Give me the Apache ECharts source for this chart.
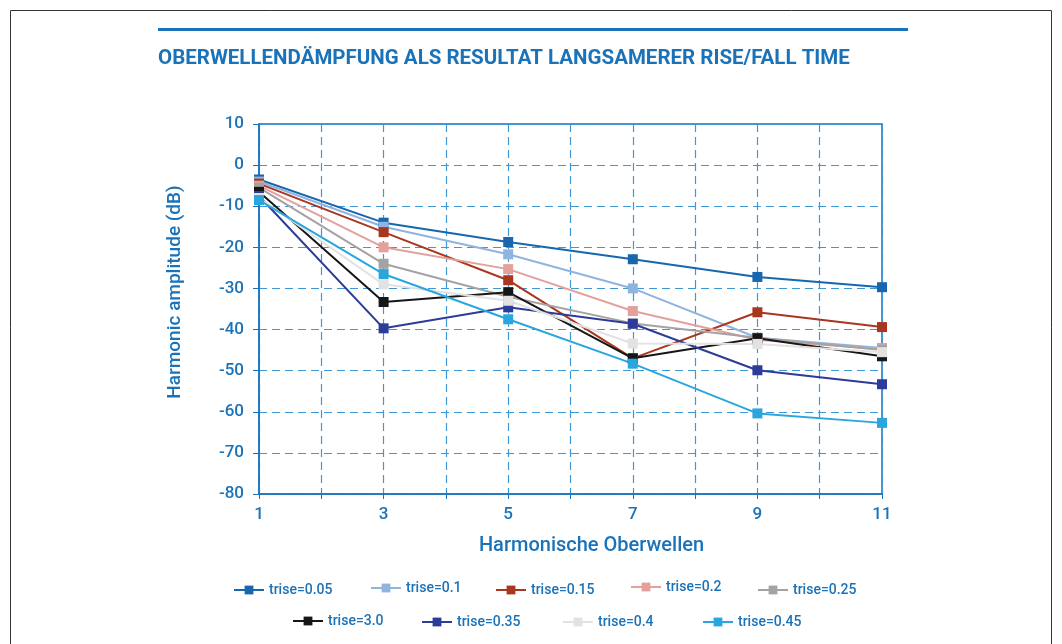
<!DOCTYPE html>
<html>
<head>
<meta charset="utf-8">
<script src="https://cdn.jsdelivr.net/npm/echarts@6/dist/echarts.min.js"></script>
<style>
    html, body { margin: 0; padding: 0; background: #fff; }
    #chart { width: 1062px; height: 644px; }
</style>
</head>
<body>
<div id="chart"></div>
<script>
// harmonic order (x axis)
var harmonics = [1, 3, 5, 7, 9, 11];

// series names
var names = [
    'trise=0.05', 'trise=0.1', 'trise=0.15', 'trise=0.2', 'trise=0.25',
    'trise=3.0', 'trise=0.35', 'trise=0.4', 'trise=0.45'
];

// amplitude in dB per series
var t005 = [-3.5, -14, -18.7, -22.9, -27.2, -29.7];
var t010 = [-4, -15, -21.7, -30, -42, -44.5];
var t015 = [-4.5, -16.3, -28, -47, -35.8, -39.4];
var t020 = [-5, -20, -25.3, -35.5, -42.5, -44.8];
var t025 = [-5.5, -24, -32, -38.5, -42, -45];
var t300 = [-6.5, -33.3, -30.9, -47, -42.1, -46.5];
var t035 = [-7.5, -39.7, -34.6, -38.6, -49.9, -53.3];
var t040 = [-8, -29, -33, -43.4, -43.5, -45.5];
var t045 = [-8.5, -26.5, -37.5, -48.3, -60.4, -62.7];

var values = [t005, t010, t015, t020, t025, t300, t035, t040, t045];

var colors = [
    '#1766ae', '#8fb4e0', '#a9361f', '#e3a09c', '#a3a3a3',
    '#161616', '#2d3b99', '#e2e2e2', '#2aa6df'
];

// legend placement (left, top) for each item
var legendPos = [
    [233, 583], [370, 581], [495, 583], [630, 580], [757, 583],
    [292, 614], [421, 615], [562, 615], [702, 615]
];

var blue = '#1a72b8';
var gridBlue = '#3f98d6';
var font = 'Roboto';

var chart = echarts.init(document.getElementById('chart'));

var series = names.map(function (name, i) {
    return {
        name: name,
        type: 'line',
        data: harmonics.map(function (h, k) {
            return [h, values[i][k]];
        }),
        symbol: 'rect',
        symbolSize: 10,
        color: colors[i],
        lineStyle: { width: 2, color: colors[i] },
        itemStyle: { color: colors[i] },
        animation: false
    };
});

var legends = names.map(function (name, i) {
    return {
        data: [name],
        left: legendPos[i][0],
        top: legendPos[i][1],
        padding: 0,
        itemWidth: 30,
        itemHeight: 11,
        textStyle: { color: blue, fontSize: 14, fontWeight: 500, fontFamily: font },
        selectedMode: false
    };
});

chart.setOption({
    backgroundColor: '#fff',
    textStyle: { fontFamily: font },
    graphic: [
        {
            type: 'rect',
            shape: { x: 10.5, y: 10.5, width: 1041, height: 700 },
            style: { fill: 'none', stroke: '#333', lineWidth: 1 },
            silent: true
        },
        {
            type: 'rect',
            shape: { x: 158, y: 28, width: 750, height: 3 },
            style: { fill: blue },
            silent: true
        },
        {
            type: 'text',
            left: 158,
            top: 48,
            style: {
                text: 'OBERWELLENDÄMPFUNG ALS RESULTAT LANGSAMERER RISE/FALL TIME',
                fill: blue,
                font: 'bold 20.5px Roboto'
            },
            silent: true
        }
    ],
    legend: legends,
    grid: {
        left: 259,
        right: 180,
        top: 124,
        bottom: 150,
        show: true,
        borderColor: blue,
        borderWidth: 1.5,
        backgroundColor: 'transparent'
    },
    xAxis: {
        type: 'value',
        min: 1,
        max: 11,
        interval: 1,
        name: 'Harmonische Oberwellen',
        nameLocation: 'middle',
        nameGap: 42,
        nameTextStyle: { color: blue, fontSize: 20, fontWeight: 500, fontFamily: font, padding: [0, 0, 0, 42] },
        axisLine: { onZero: false, lineStyle: { color: blue, width: 1.5 } },
        axisTick: { length: 5, lineStyle: { color: blue } },
        axisLabel: {
            color: blue,
            fontSize: 17,
            fontWeight: 500,
            margin: 12,
            formatter: function (v) {
                return v % 2 === 1 ? String(v) : '';
            }
        },
        splitLine: { show: true, lineStyle: { color: gridBlue, type: [8, 5], width: 1.2 } }
    },
    yAxis: {
        type: 'value',
        min: -80,
        max: 10,
        interval: 10,
        name: 'Harmonic amplitude (dB)',
        nameLocation: 'middle',
        nameGap: 74,
        nameTextStyle: { color: blue, fontSize: 19, fontWeight: 500, fontFamily: font, padding: [0, 0, 0, 34] },
        axisLine: { show: true, onZero: false, lineStyle: { color: blue, width: 1.5 } },
        axisTick: { show: true, length: 6, lineStyle: { color: blue } },
        axisLabel: { color: blue, fontSize: 17, fontWeight: 500, margin: 15 },
        splitLine: { show: true, lineStyle: { color: gridBlue, type: [8, 5], width: 1.2 } }
    },
    series: series
});
</script>
</body>
</html>
